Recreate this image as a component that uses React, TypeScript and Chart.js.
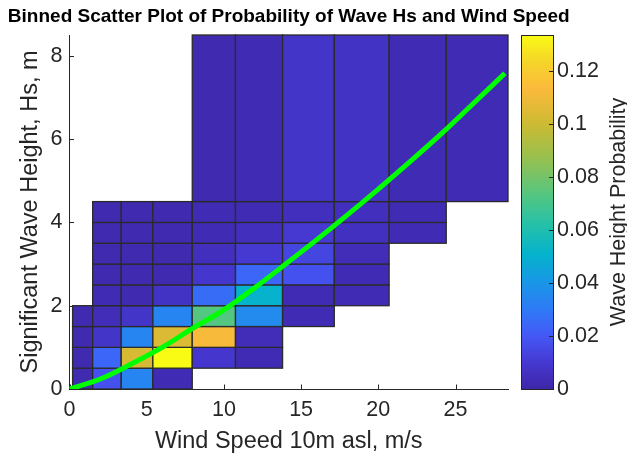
import React, { useEffect, useRef } from "react";
import { Chart, registerables } from "chart.js";

Chart.register(...registerables);

// ---------- data ----------
const TITLE = "Binned Scatter Plot of Probability of Wave Hs and Wind Speed";
const X_LABEL = "Wind Speed 10m asl, m/s";
const Y_LABEL = "Significant Wave Height, Hs, m";
const CB_LABEL = "Wave Height Probability";

// bin edges
const windEdges = [0.2, 1.5, 3.35, 5.4, 7.95, 10.75, 13.8, 17.15, 20.7, 24.4, 28.4];
const hsEdges = [0, 0.5, 1, 1.5, 2, 2.5, 3, 3.5, 4, 4.5, 8.5];

// probability per Hs bin (row), one value per wind bin (null = empty)
const probHs0 = [0.002, 0.018, 0.034, 0.003, null, null, null, null, null, null];
const probHs1 = [0.002, 0.024, 0.103, 0.1335, 0.009, 0.003, null, null, null, null];
const probHs2 = [0.002, 0.008, 0.034, 0.104, 0.112, 0.004, null, null, null, null];
const probHs3 = [0.002, 0.004, 0.008, 0.034, 0.073, 0.036, 0.003, null, null, null];
const probHs4 = [null, 0.003, 0.002, 0.007, 0.026, 0.051, 0.003, 0.003, null, null];
const probHs5 = [null, 0.002, 0.002, 0.002, 0.009, 0.024, 0.018, 0.003, null, null];
const probHs6 = [null, 0.002, 0.002, 0.002, 0.005, 0.010, 0.014, 0.004, null, null];
const probHs7 = [null, 0.002, 0.002, 0.002, 0.003, 0.005, 0.010, 0.006, 0.003, null];
const probHs8 = [null, 0.002, 0.002, 0.002, 0.003, 0.003, 0.005, 0.005, 0.003, null];
const probHs9 = [null, null, null, null, 0.002, 0.003, 0.008, 0.007, 0.003, 0.003];
const probRows = [probHs0, probHs1, probHs2, probHs3, probHs4, probHs5, probHs6, probHs7, probHs8, probHs9];

// fitted Hs curve (green)
const fitWind = [0, 2, 4, 6, 8, 10, 12, 14, 16, 18, 20, 22, 24, 26, 28.2];
const fitHs = [0, 0.24, 0.6, 1.0, 1.46, 1.9, 2.43, 3.0, 3.58, 4.18, 4.8, 5.44, 6.1, 6.8, 7.58];

// axes
const xMax = 28.4;
const yMax = 8.5;
const cbMax = 0.1335;
const xTicks = [0, 5, 10, 15, 20, 25];
const yTicks = [0, 2, 4, 6, 8];
const cbTicks = [0, 0.02, 0.04, 0.06, 0.08, 0.1, 0.12];

// parula-like colormap stops [t, r, g, b]
const parulaStops = [
  [0.0, 62, 38, 168],
  [0.08, 70, 58, 212],
  [0.15, 68, 88, 246],
  [0.22, 48, 120, 248],
  [0.3, 25, 150, 230],
  [0.38, 5, 178, 205],
  [0.46, 35, 192, 170],
  [0.55, 85, 198, 128],
  [0.65, 150, 192, 80],
  [0.75, 205, 186, 50],
  [0.85, 252, 186, 60],
  [0.93, 245, 215, 40],
  [1.0, 249, 251, 20],
];

const FONT = "'Liberation Sans', Arial, Helvetica, sans-serif";
const AXIS_COLOR = "#262626";

function parula(t: number): string {
  const v = Math.max(0, Math.min(1, t));
  for (let i = 1; i < parulaStops.length; i++) {
    const a = parulaStops[i - 1];
    const b = parulaStops[i];
    if (v <= b[0]) {
      const f = (v - a[0]) / (b[0] - a[0]);
      const r = Math.round(a[1] + (b[1] - a[1]) * f);
      const g = Math.round(a[2] + (b[2] - a[2]) * f);
      const bl = Math.round(a[3] + (b[3] - a[3]) * f);
      return `rgb(${r},${g},${bl})`;
    }
  }
  const l = parulaStops[parulaStops.length - 1];
  return `rgb(${l[1]},${l[2]},${l[3]})`;
}

const binPlugin = {
  id: "bins",
  beforeDatasetsDraw(chart: any) {
    const { ctx, chartArea } = chart;
    const xs = chart.scales.x;
    const ys = chart.scales.y;
    ctx.save();
    // inward tick marks (behind patches)
    ctx.strokeStyle = AXIS_COLOR;
    ctx.lineWidth = 1;
    ctx.beginPath();
    for (const t of xs.ticks) {
      const px = Math.round(xs.getPixelForValue(t.value)) + 0.5;
      ctx.moveTo(px, chartArea.bottom);
      ctx.lineTo(px, chartArea.bottom - 4.5);
    }
    for (const t of ys.ticks) {
      const py = Math.round(ys.getPixelForValue(t.value)) + 0.5;
      ctx.moveTo(chartArea.left, py);
      ctx.lineTo(chartArea.left + 4.5, py);
    }
    ctx.stroke();

    // binned cells
    ctx.lineWidth = 1.3;
    ctx.strokeStyle = "#2b2b2b";
    for (let r = 0; r < probRows.length; r++) {
      const row = probRows[r];
      for (let c = 0; c < row.length; c++) {
        const v = row[c];
        if (v === null || v === undefined) continue;
        const x0 = xs.getPixelForValue(windEdges[c]);
        const x1 = xs.getPixelForValue(windEdges[c + 1]);
        const y0 = ys.getPixelForValue(hsEdges[r + 1]);
        const y1 = ys.getPixelForValue(hsEdges[r]);
        ctx.fillStyle = parula(v / cbMax);
        ctx.fillRect(x0, y0, x1 - x0, y1 - y0);
        ctx.strokeRect(x0, y0, x1 - x0, y1 - y0);
      }
    }
    ctx.restore();
  },
  afterDraw(chart: any) {
    const { ctx, chartArea } = chart;
    const cb = chart.scales.cb;
    const top = cb.getPixelForValue(cbMax);
    const bottom = cb.getPixelForValue(0);
    const x0 = cb.left + 13;
    const x1 = cb.left + 45;
    ctx.save();
    // title
    ctx.fillStyle = "#000";
    ctx.font = `bold 19px ${FONT}`;
    ctx.textAlign = "center";
    ctx.textBaseline = "middle";
    ctx.fillText(TITLE, (chartArea.left + chartArea.right) / 2, 17);

    const grad = ctx.createLinearGradient(0, bottom, 0, top);
    for (const s of parulaStops) grad.addColorStop(s[0], `rgb(${s[1]},${s[2]},${s[3]})`);
    ctx.fillStyle = grad;
    ctx.fillRect(x0, top, x1 - x0, bottom - top);
    ctx.strokeStyle = AXIS_COLOR;
    ctx.lineWidth = 1;
    ctx.strokeRect(Math.round(x0) + 0.5, Math.round(top) + 0.5, Math.round(x1 - x0), Math.round(bottom - top));
    ctx.beginPath();
    for (const t of cb.ticks) {
      const py = Math.round(cb.getPixelForValue(t.value)) + 0.5;
      ctx.moveTo(x1, py);
      ctx.lineTo(x1 - 4, py);
    }
    ctx.stroke();
    // colorbar label
    ctx.translate(cb.right + 19, (top + bottom) / 2);
    ctx.rotate(-Math.PI / 2);
    ctx.fillStyle = AXIS_COLOR;
    ctx.font = `21.5px ${FONT}`;
    ctx.textAlign = "center";
    ctx.textBaseline = "middle";
    ctx.fillText(CB_LABEL, 0, 0);
    ctx.restore();
  },
};

export default function App() {
  const ref = useRef<HTMLCanvasElement | null>(null);
  useEffect(() => {
    if (!ref.current) return;
    const tickFont = { family: FONT, size: 21.5 };
    const labelFont = { family: FONT, size: 23.5 };
    const chart = new Chart(ref.current, {
      type: "scatter",
      data: {
        datasets: [
          {
            data: fitWind.map((w, i) => ({ x: w, y: fitHs[i] })),
            showLine: true,
            borderColor: "#00ff00",
            backgroundColor: "#00ff00",
            borderWidth: 5,
            pointRadius: 0,
            cubicInterpolationMode: "monotone",
          },
        ],
      },
      options: {
        responsive: false,
        animation: false,
        devicePixelRatio: 1,
        layout: { padding: { left: 0, right: 27, top: 35, bottom: 0 } },
        plugins: {
          legend: { display: false },
          tooltip: { enabled: false },
          title: { display: false },
        },
        scales: {
          x: {
            type: "linear",
            min: 0,
            max: xMax,
            afterBuildTicks: (s: any) => {
              s.ticks = xTicks.map((v) => ({ value: v }));
            },
            afterFit: (s: any) => {
              s.height = 67;
              s.paddingLeft = 0;
              s.paddingRight = 0;
            },
            grid: { display: false, drawTicks: false },
            border: { display: true, color: AXIS_COLOR, width: 1 },
            ticks: { font: tickFont, color: AXIS_COLOR, padding: 8, maxRotation: 0, autoSkip: false, callback: (v: any) => String(v) },
            title: { display: true, text: X_LABEL, font: labelFont, color: AXIS_COLOR, padding: { top: 0, bottom: 0 } },
          },
          y: {
            type: "linear",
            min: 0,
            max: yMax,
            afterBuildTicks: (s: any) => {
              s.ticks = yTicks.map((v) => ({ value: v }));
            },
            afterFit: (s: any) => {
              s.width = 69.5;
              s.paddingTop = 0;
              s.paddingBottom = 0;
            },
            grid: { display: false, drawTicks: false },
            border: { display: true, color: AXIS_COLOR, width: 1 },
            ticks: { font: tickFont, color: AXIS_COLOR, padding: 7, autoSkip: false, callback: (v: any) => String(v) },
            title: { display: true, text: Y_LABEL, font: labelFont, color: AXIS_COLOR, padding: { top: 16, bottom: 0 } },
          },
          cb: {
            type: "linear",
            position: "right",
            min: 0,
            max: cbMax,
            afterBuildTicks: (s: any) => {
              s.ticks = cbTicks.map((v) => ({ value: v }));
            },
            afterFit: (s: any) => {
              s.width = 92;
              s.paddingTop = 0;
              s.paddingBottom = 0;
            },
            grid: { display: false, drawTicks: true, tickLength: 45 },
            border: { display: false },
            ticks: { font: tickFont, color: AXIS_COLOR, padding: 4, autoSkip: false, callback: (v: any) => String(v) },
          },
        },
      },
      plugins: [binPlugin],
    } as any);
    return () => chart.destroy();
  }, []);
  return (
    <div style={{ position: "fixed", left: 0, top: 0, width: 627, height: 456, background: "#fff" }}>
      <canvas ref={ref} width={627} height={456} style={{ display: "block" }} />
    </div>
  );
}
